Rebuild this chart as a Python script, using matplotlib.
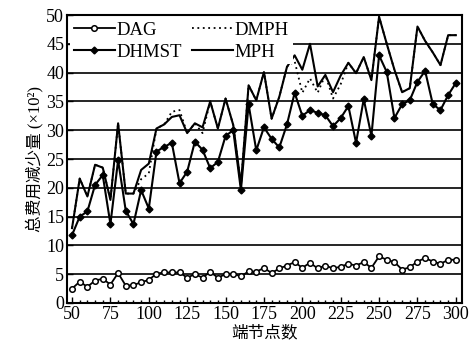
import matplotlib.pyplot as plt
import numpy as np
from matplotlib.ticker import MultipleLocator

# 端节点数
nodes = np.arange(50, 301, 5)

dag = [2.5, 3.7, 2.8, 3.9, 4.2, 3.2, 5.2, 3.0, 3.1, 3.6, 4.0, 5.1, 5.3, 5.3, 5.3,
       4.4, 5.0, 4.4, 5.4, 4.4, 5.0, 5.1, 4.6, 5.5, 5.4, 6.1, 5.2, 6.0, 6.5, 7.1,
       6.1, 7.0, 6.0, 6.5, 6.0, 6.3, 6.8, 6.5, 7.1, 6.1, 8.1, 7.5, 7.1, 5.8, 6.2,
       7.2, 7.8, 7.2, 6.8, 7.5, 7.5]

dhmst = [11.8, 15.0, 15.9, 20.5, 22.2, 13.7, 24.8, 16.0, 13.7, 19.6, 16.4, 26.3,
         27.1, 27.8, 20.8, 22.8, 28.0, 26.6, 23.4, 24.5, 29.0, 30.0, 19.6, 34.5,
         26.5, 30.5, 28.5, 27.0, 31.0, 36.5, 32.5, 33.5, 33.0, 32.6, 30.7, 32.1,
         34.2, 27.8, 35.4, 29.0, 43.0, 40.1, 32.1, 34.5, 35.2, 38.4, 40.3, 34.5,
         33.5, 36.1, 38.2]

mph = [13.0, 21.6, 18.5, 24.0, 23.5, 17.9, 31.2, 19.0, 19.0, 23.1, 24.2, 30.3,
       31.0, 32.3, 32.6, 29.5, 31.2, 30.5, 35.0, 30.3, 35.5, 30.9, 20.5, 37.8,
       35.2, 40.1, 32.0, 35.8, 41.0, 43.0, 40.5, 45.0, 37.6, 39.6, 36.6, 39.5,
       41.7, 39.9, 42.7, 38.7, 49.7, 45.0, 40.5, 36.6, 37.3, 48.0, 45.5, 43.5,
       41.3, 46.5, 46.5]

dmph = [13.0, 21.6, 18.5, 24.0, 23.5, 17.9, 31.2, 19.0, 19.0, 21.5, 22.5, 30.3,
        31.0, 33.2, 33.5, 29.5, 31.2, 29.5, 35.0, 30.3, 35.5, 30.9, 20.5, 37.8,
        35.2, 40.1, 32.0, 35.8, 41.0, 42.0, 36.5, 39.0, 36.5, 39.6, 35.5, 38.0,
        41.7, 39.9, 42.7, 38.7, 49.7, 45.0, 40.5, 36.6, 37.3, 48.0, 45.5, 43.5,
        41.3, 46.5, 46.5]

fonts = ['Liberation Serif', 'Noto Sans CJK SC']
plt.rcParams['font.family'] = fonts
plt.rcParams['font.size'] = 12

fig = plt.figure(figsize=(4.73, 3.55), dpi=100)
ax = fig.add_axes([0.1416, 0.1465, 0.8351, 0.8112])

ax.plot(nodes, dmph, color='k', lw=1.3, ls=(0, (1, 2)), label='DMPH', zorder=3)
ax.plot(nodes, mph, color='k', lw=1.5, label='MPH', zorder=3)
ax.plot(nodes, dhmst, color='k', lw=1.5, marker='D', ms=3.5, label='DHMST', zorder=4)
ax.plot(nodes, dag, color='k', lw=1.3, marker='o', ms=4, mfc='white', mew=1.1,
        label='DAG', zorder=4)

ax.set_xlim(46.7, 304)
ax.set_ylim(0, 50)
ax.xaxis.set_major_locator(MultipleLocator(25))
ax.xaxis.set_minor_locator(MultipleLocator(5))
ax.yaxis.set_major_locator(MultipleLocator(5))
ax.yaxis.grid(True, color='k', lw=1.2)
ax.set_axisbelow(True)
ax.tick_params(direction='in', which='both', labelsize=13, pad=2)
ax.tick_params(which='major', length=4, width=1)
ax.tick_params(which='minor', length=2.5, width=1)
for s in ax.spines.values():
    s.set_linewidth(1.5)

ax.set_xlabel('端节点数', fontsize=12, labelpad=2)
ax.set_ylabel('总费用减少量 (×10²)', fontsize=12, labelpad=2)

# rows: DAG / DMPH, DHMST / MPH
h, l = ax.get_legend_handles_labels()
order = [3, 2, 0, 1]
leg = ax.legend([h[i] for i in order], [l[i] for i in order], ncol=2,
                loc='upper left', bbox_to_anchor=(0.0, 1.0), fontsize=13.5,
                frameon=True, fancybox=False, edgecolor='none', framealpha=1,
                handlelength=2.2, handletextpad=0.1, columnspacing=0.5,
                labelspacing=0.25, borderpad=0.2, borderaxespad=0.15)
leg.set_zorder(10)

fig.savefig('out.png', dpi=100)
